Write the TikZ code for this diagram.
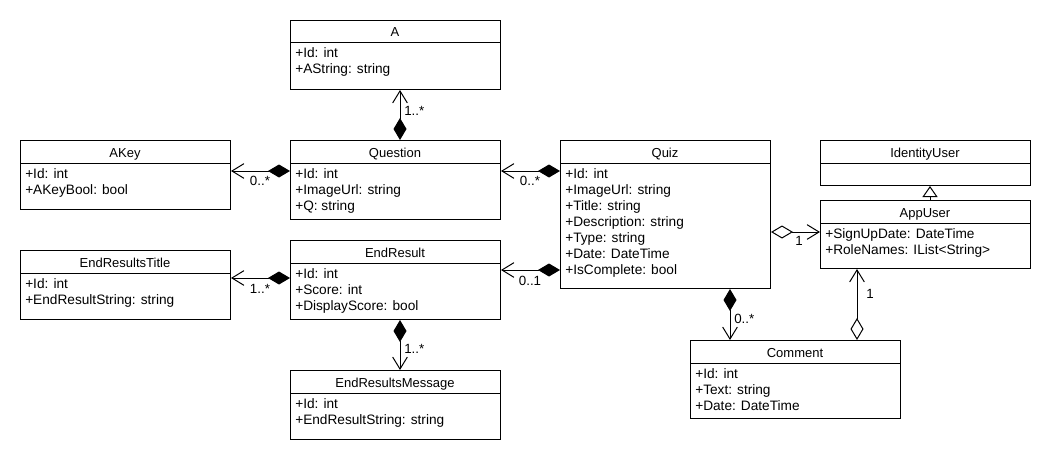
\documentclass[tikz,border=0pt]{standalone}
\usepackage{fontspec}
\setmainfont{Liberation Sans}
\usetikzlibrary{arrows.meta}
\tikzset{
  classbox/.style={draw, line width=0.75pt, inner sep=0pt, anchor=north west, fill=white},
  sepline/.style={draw, line width=0.75pt},
  titletext/.style={font=\fontsize{9.75}{12}\selectfont, inner sep=0pt, anchor=base},
  attrtext/.style={font=\fontsize{10.25}{12}\selectfont, inner sep=0pt, anchor=base west},
  mult/.style={font=\fontsize{10}{12}\selectfont, inner sep=0pt},
  comp/.style={draw, line width=0.75pt, {Diamond[length=16.5pt,width=9.75pt]}-{Straight Barb[length=9pt,width=11pt]}},
  agg/.style={draw, line width=0.75pt, {Diamond[open,length=16.5pt,width=9.75pt,fill=white]}-{Straight Barb[length=9pt,width=11pt]}},
  gen/.style={draw, line width=0.75pt, -{Triangle[open,length=8.25pt,width=11.25pt,fill=white]}}
}
% #1 name, #2 left, #3 top, #4 right, #5 header line y, #6 bottom, #7 title
\newcommand{\umlbox}[7]{%
  \node[classbox, minimum width={(#4-#2)*0.75pt}, minimum height={(#6-#3)*0.75pt}] (#1) at (#2,#3) {};
  \draw[sepline] (#2,#5) -- (#4,#5);
  \node[titletext] (#1-title) at ({(#2+#4)/2},{#3+17}) {#7};
}
% #1 name, #2 left, #3 header line y, #4 list of attributes
\newcommand{\umlattrs}[4]{%
  \foreach \a [count=\i] in {#4} {
    \node[attrtext] (#1-\i) at ({#2+5},{#3+15+16*(\i-1)}) {\a};
  }
}
\begin{document}
\begin{tikzpicture}[x=0.75pt,y=-0.75pt]
\useasboundingbox (0,0) rectangle (1050,460);
\fill[white] (0,0) rectangle (1050,460);

\umlbox{A}{290}{20}{500}{43}{89}{A}
\umlattrs{A}{290}{43}{+Id: int,+AString: string}

\umlbox{AKey}{20}{140}{230}{163}{209}{AKey}
\umlattrs{AKey}{20}{163}{+Id: int,+AKeyBool: bool}

\umlbox{Question}{290}{140}{500}{163}{219}{Question}
\umlattrs{Question}{290}{163}{+Id: int,+ImageUrl: string,+Q: string}

\umlbox{Quiz}{560}{140}{770}{163}{288}{Quiz}
\umlattrs{Quiz}{560}{163}{+Id: int,+ImageUrl: string,+Title: string,+Description: string,+Type: string,+Date: DateTime,+IsComplete: bool}

\umlbox{IdentityUser}{820}{140}{1030}{163}{185}{IdentityUser}

\umlbox{AppUser}{820}{200}{1030}{223}{268}{AppUser}
\umlattrs{AppUser}{820}{223}{+SignUpDate: DateTime,+RoleNames: IList<String>}

\umlbox{EndResultsTitle}{20}{250}{230}{273}{319}{EndResultsTitle}
\umlattrs{EndResultsTitle}{20}{273}{+Id: int,+EndResultString: string}

\umlbox{EndResult}{290}{240}{500}{263}{319}{EndResult}
\umlattrs{EndResult}{290}{263}{+Id: int,+Score: int,+DisplayScore: bool}

\umlbox{EndResultsMessage}{290}{370}{500}{393}{439}{EndResultsMessage}
\umlattrs{EndResultsMessage}{290}{393}{+Id: int,+EndResultString: string}

\umlbox{Comment}{690}{340}{900}{363}{418}{Comment}
\umlattrs{Comment}{690}{363}{+Id: int,+Text: string,+Date: DateTime}

% connector guide coordinates
\coordinate (yQ) at (0,171);
\coordinate (yER) at (0,270);
\coordinate (yET) at (0,278);
\coordinate (yAU) at (0,232);
\coordinate (x400) at (400,0);
\coordinate (x730) at (730,0);
\coordinate (x857) at (857,0);
\coordinate (x930) at (930,0);

% compositions
\draw[comp] (Question.north -| x400) -- (A.south -| x400);
\draw[comp] (Question.west |- yQ) -- (AKey.east |- yQ);
\draw[comp] (Quiz.west |- yQ) -- (Question.east |- yQ);
\draw[comp] (Quiz.west |- yER) -- (EndResult.east |- yER);
\draw[comp] (EndResult.west |- yET) -- (EndResultsTitle.east |- yET);
\draw[comp] (EndResult.south -| x400) -- (EndResultsMessage.north -| x400);
\draw[comp] (Quiz.south -| x730) -- (Comment.north -| x730);
% aggregations
\draw[agg] (Quiz.east |- yAU) -- (AppUser.west |- yAU);
\draw[agg] (Comment.north -| x857) -- (AppUser.south -| x857);
% generalization
\draw[gen] (AppUser.north -| x930) -- (IdentityUser.south -| x930);

% multiplicities
\node[mult, anchor=west] (mA) at (404,111) {1..*};
\node[mult] (mAKey) at (260,181) {0..*};
\node[mult] (mQuestion) at (530,181) {0..*};
\node[mult] (mEndResult) at (530,281) {0..1};
\node[mult] (mTitle) at (260,289) {1..*};
\node[mult, anchor=west] (mMessage) at (404,349) {1..*};
\node[mult, anchor=west] (mComment) at (734,319) {0..*};
\node[mult] (mAppUser) at (799,241) {1};
\node[mult] (mAppUser2) at (870,294) {1};
\end{tikzpicture}
\end{document}
